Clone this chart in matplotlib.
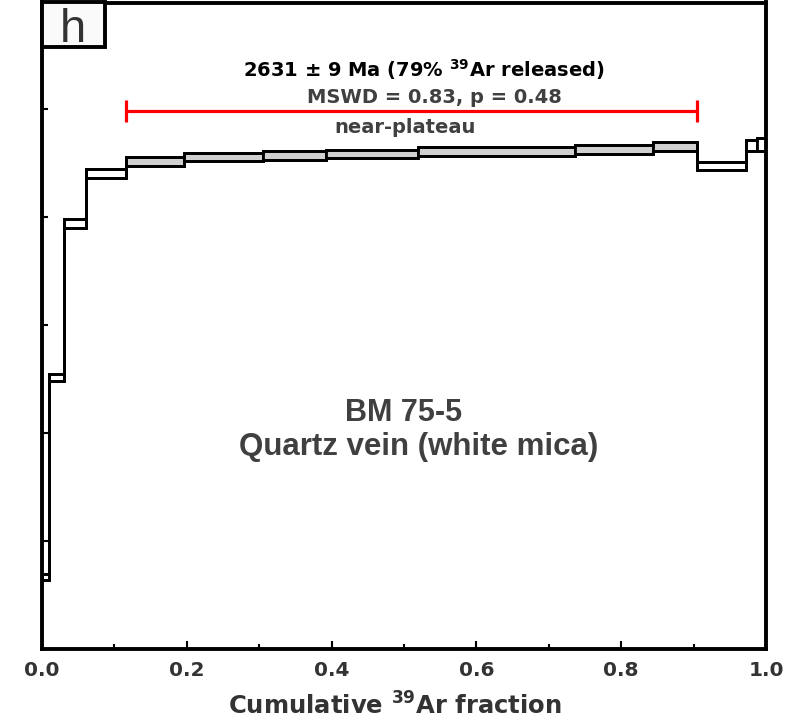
import matplotlib
matplotlib.use('Agg')
import matplotlib.pyplot as plt
import numpy as np
from matplotlib.patches import Rectangle
from matplotlib.ticker import MultipleLocator

# ---- data (cumulative 39Ar fraction edges, apparent ages, 2-sigma half-widths) ----
step_edges = [0.0, 0.0097, 0.0304, 0.0608, 0.116, 0.1961, 0.3052, 0.3923,
              0.5193, 0.7362, 0.8439, 0.9047, 0.9724, 0.9876, 1.0]
step_ages = [1834, 2203, 2488, 2580.5, 2603, 2611, 2614, 2616.5,
             2621, 2625, 2630.5, 2594.5, 2632.5, 2634]
step_errs = [5.5, 6.5, 8.5, 8.5, 8.5, 7.5, 8.5, 7.5,
             8.5, 8.5, 8.5, 7.5, 10.3, 12.2]
in_plateau = [False, False, False, False, True, True, True, True,
              True, True, True, False, False, False]
plateau_bar_age = 2696

x_major = [0.0, 0.2, 0.4, 0.6, 0.8, 1.0]
x_labels = ['0.0', '0.2', '0.4', '0.6', '0.8', '1.0']
y_ticks = [1900, 2100, 2300, 2500, 2700]

panel_label = 'h'
age_text = '2631 ± 9 Ma (79% $^{39}$Ar released)'
stats_text = 'MSWD = 0.83, p = 0.48'
type_text = 'near-plateau'
sample_text = 'BM 75-5'
rock_text = 'Quartz vein (white mica)'
xlabel_text = 'Cumulative $^{39}$Ar fraction'

plt.rcParams['mathtext.default'] = 'regular'

W, H = 807, 723
fig = plt.figure(figsize=(W / 100, H / 100), dpi=100)
ax = fig.add_axes([42 / W, 74 / H, 724 / W, 646.5 / H])

edges = np.array(step_edges)
ages = np.array(step_ages)
errs = np.array(step_errs)
lefts = edges[:-1]
widths = np.diff(edges)
fills = ['#d0d0d0' if p else 'white' for p in in_plateau]

lw = 2.0
ax.bar(lefts, 2 * errs, width=widths, bottom=ages - errs, align='edge',
       color=fills, edgecolor='black', linewidth=lw, zorder=2)
ax.stairs(ages + errs, edges, baseline=None, color='black', linewidth=lw, zorder=3)
ax.stairs(ages - errs, edges, baseline=None, color='black', linewidth=lw, zorder=3)

# plateau bar
p_idx = [i for i, p in enumerate(in_plateau) if p]
p_start, p_end = edges[p_idx[0]], edges[p_idx[-1] + 1]
ax.hlines(plateau_bar_age, p_start, p_end, color='#ff0000', linewidth=2.3, zorder=4)
ax.vlines([p_start, p_end], plateau_bar_age - 20.5, plateau_bar_age + 20.5,
          color='#ff0000', linewidth=2.3, zorder=4)

ax.set_xlim(0, 1)
ax.set_ylim(1700, 2897)

ax.set_xticks(x_major)
ax.set_xticklabels(x_labels)
ax.xaxis.set_minor_locator(MultipleLocator(0.1))
ax.set_yticks(y_ticks)
ax.tick_params(axis='y', which='both', direction='in', length=4.5, width=1.5,
               labelleft=False, left=True, right=False)
ax.tick_params(axis='x', which='major', direction='in', length=5.5, width=1.5,
               pad=9, top=False)
ax.tick_params(axis='x', which='minor', direction='in', length=3.5, width=1.5, top=False)
for lab in ax.get_xticklabels():
    lab.set_fontfamily('DejaVu Sans')
    lab.set_fontweight('bold')
    lab.set_fontsize(14.5)
    lab.set_color('#333333')

for sp in ax.spines.values():
    sp.set_linewidth(2.8)
    sp.set_color('black')

# panel label box
ax.add_patch(Rectangle((0, (649 - 47) / 646.5), (105 - 42) / 724, 1 - (649 - 47) / 646.5,
                       transform=ax.transAxes, facecolor='#fafafa', edgecolor='black',
                       linewidth=2.8, zorder=5, clip_on=False))
ax.text(0.0428, 0.9394, panel_label, transform=ax.transAxes, ha='center', va='baseline',
        fontsize=34, color='#333333', family='Liberation Sans', zorder=6)

ax.text(0.5276, 0.8848, age_text, transform=ax.transAxes, ha='center', va='baseline',
        fontsize=14, fontweight='bold', color='black', family='DejaVu Sans')
ax.text(0.5414, 0.8445, stats_text, transform=ax.transAxes, ha='center', va='baseline',
        fontsize=14, fontweight='bold', color='#404040', family='DejaVu Sans')
ax.text(0.5014, 0.7986, type_text, transform=ax.transAxes, ha='center', va='baseline',
        fontsize=14, fontweight='bold', color='#404040', family='DejaVu Sans')

ax.text(0.50, 0.3527, sample_text, transform=ax.transAxes, ha='center', va='baseline',
        fontsize=22, fontweight='bold', color='#404040', family='Liberation Sans')
ax.text(0.5207, 0.3001, rock_text, transform=ax.transAxes, ha='center', va='baseline',
        fontsize=22.5, fontweight='bold', color='#404040', family='Liberation Sans')

ax.text(0.487, -0.102, xlabel_text, transform=ax.transAxes, ha='center', va='baseline',
        fontsize=17.5, fontweight='bold', color='#333333', family='DejaVu Sans')

fig.savefig('out.png', dpi=100)
